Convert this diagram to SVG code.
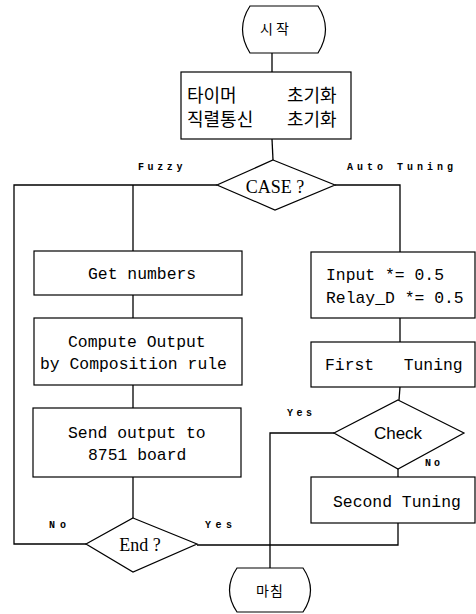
<svg xmlns="http://www.w3.org/2000/svg" width="476" height="614" viewBox="0 0 476 614">
<style>
.s{fill:none;stroke:#000;stroke-width:1.3}
.b{fill:#fff;stroke:#000;stroke-width:1.2}
.m{font-family:"Liberation Mono","DejaVu Sans Mono",monospace;font-size:16.4px;fill:#000}
.k{font-family:"Noto Sans CJK KR","Noto Sans CJK SC",sans-serif;fill:#000}
.r{font-family:"Liberation Serif","Times New Roman",serif;font-size:18px;fill:#000}
.l{font-family:"Liberation Mono",monospace;font-size:10px;font-weight:bold;fill:#000}
</style>
<g id="connectors" class="s">
<line x1="272" y1="53" x2="272" y2="72"/>
<line x1="272" y1="139" x2="273" y2="160"/>
<polyline points="217,185 14,185 14,544 86,544"/>
<polyline points="133,185 133,251"/>
<line x1="133" y1="295" x2="133" y2="318"/>
<line x1="133" y1="385" x2="133" y2="408"/>
<line x1="133" y1="477" x2="133" y2="518"/>
<polyline points="335,185 400,185 400,252"/>
<line x1="400" y1="318" x2="400" y2="342"/>
<line x1="400" y1="387" x2="399" y2="400"/>
<line x1="398" y1="469" x2="398" y2="477"/>
<polyline points="398,523 398,545 197,545"/>
<polyline points="334,433 270,433 270,568"/>
</g>
<g id="start">
<path class="b" d="M250 6 L318 6 Q333 29 318 53 L250 53 Q235 29 250 6 Z"/>
<text class="k" x="276" y="34" font-size="14" letter-spacing="3" text-anchor="middle">시작</text>
</g>
<g id="init">
<rect class="b" x="181" y="72" width="170" height="67"/>
<text class="k" x="187" y="102" font-size="18">타이머</text>
<text class="k" x="287" y="102" font-size="18">초기화</text>
<text class="k" x="187" y="126" font-size="18">직렬통신</text>
<text class="k" x="287" y="126" font-size="18">초기화</text>
</g>
<g id="case">
<polygon class="b" points="273,160 335,185 275,210 217,185"/>
<text class="r" x="275" y="193" text-anchor="middle">CASE ?</text>
</g>
<g id="get">
<rect class="b" x="34" y="251" width="208" height="44"/>
<text class="m" x="88" y="279">Get numbers</text>
</g>
<g id="compute">
<rect class="b" x="34" y="318" width="208" height="67"/>
<text class="m" x="68" y="347">Compute Output</text>
<text class="m" x="40" y="369">by Composition rule</text>
</g>
<g id="send">
<rect class="b" x="33" y="408" width="208" height="69"/>
<text class="m" x="68" y="438">Send output to</text>
<text class="m" x="88" y="460">8751 board</text>
</g>
<g id="end-check">
<polygon class="b" points="133,518 197,544 133,572 86,544"/>
<text class="r" x="140" y="551" text-anchor="middle">End ?</text>
</g>
<g id="input">
<rect class="b" x="311" y="252" width="164" height="66"/>
<text class="m" x="326" y="280">Input *= 0.5</text>
<text class="m" x="326" y="303">Relay_D *= 0.5</text>
</g>
<g id="first">
<rect class="b" x="311" y="342" width="164" height="45"/>
<text class="m" x="325" y="370" xml:space="preserve">First   Tuning</text>
</g>
<g id="check">
<polygon class="b" points="398,400 464,433 398,469 334,433"/>
<text x="398" y="439" font-family="Liberation Sans,Arial,sans-serif" font-size="17" text-anchor="middle">Check</text>
</g>
<g id="second">
<rect class="b" x="311" y="477" width="164" height="46"/>
<text class="m" x="333" y="507">Second Tuning</text>
</g>
<g id="finish">
<path class="b" d="M237 568 L303 568 Q318 590 303 612 L237 612 Q222 590 237 568 Z"/>
<text class="k" x="270" y="596" font-size="14" letter-spacing="1" text-anchor="middle">마침</text>
</g>
<g id="labels">
<text class="l" x="138" y="170" letter-spacing="3.6">Fuzzy</text>
<text class="l" x="347" y="170" letter-spacing="4">Auto Tuning</text>
<text class="l" x="49" y="528" letter-spacing="5">No</text>
<text class="l" x="205" y="528" letter-spacing="4.5">Yes</text>
<text class="l" x="287" y="416" letter-spacing="3.5">Yes</text>
<text class="l" x="425" y="466" letter-spacing="3">No</text>
</g>
</svg>
